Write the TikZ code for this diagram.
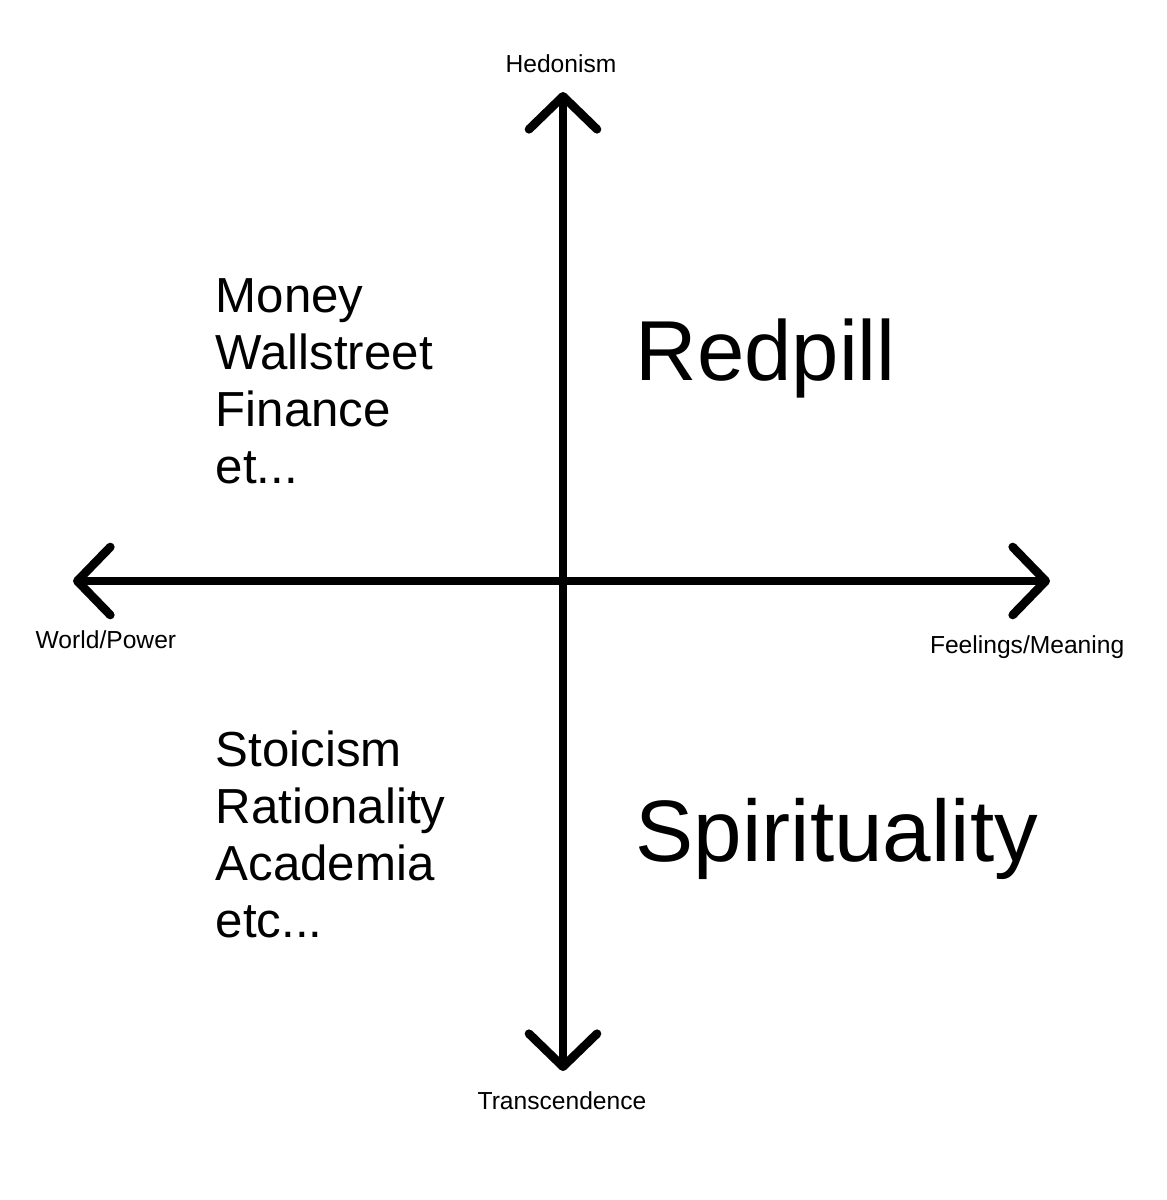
\documentclass[tikz,border=0pt]{standalone}
\usepackage{fontspec}
\setmainfont{Liberation Sans}
\usetikzlibrary{arrows.meta,positioning}

\begin{document}
\begin{tikzpicture}[x=0.01cm, y=-0.01cm,
  axis/.style={line width=2.45pt, line cap=round, line join=round,
    {Straight Barb[length=0.33cm, width=0.68cm, line cap=round, line join=round]}-{Straight Barb[length=0.33cm, width=0.68cm, line cap=round, line join=round]}},
  pole/.style={font=\fontsize{7}{8.5}\selectfont, inner sep=0pt, anchor=base},
  items/.style={font=\fontsize{14}{16.2}\selectfont, align=left, inner sep=0pt, anchor=base west},
  big/.style={font=\fontsize{24.2}{29}\selectfont, inner sep=0pt, anchor=base west}
]
  \useasboundingbox (0,0) rectangle (1167,1200);
  % axes
  \coordinate (top) at (563,92);
  \coordinate (bottom) at (563,1071);
  \coordinate (left) at (73,581);
  \coordinate (right) at (1050,581);
  \draw[axis] (bottom) -- (top);
  \draw[axis] (left) -- (right);
  % pole labels
  \node[pole] (hedonism) at (561,72) {Hedonism};
  \node[pole] (transcendence) at (562,1109) {Transcendence};
  \node[pole, anchor=base west] (world) at (35,648) {World/Power};
  \node[pole, anchor=base east] (feelings) at (1125,653) {Feelings/Meaning};
  % quadrants
  \node[items] (worldly) at (215,483) {Money\\Wallstreet\\Finance\\et...};
  \node[items] (mind) at (215,937) {Stoicism\\Rationality\\Academia\\etc...};
  \node[big] (redpill) at (635,380) {Redpill};
  \node[big, font=\fontsize{24.8}{29}\selectfont] (spirit) at (635,861) {Spirituality};
\end{tikzpicture}
\end{document}
